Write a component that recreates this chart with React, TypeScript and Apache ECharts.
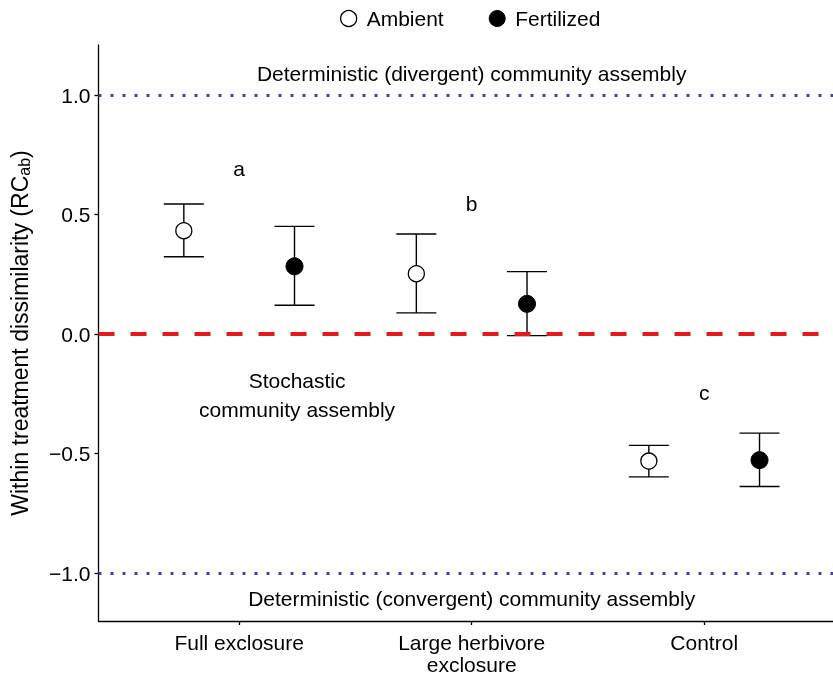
import React, { useEffect, useRef } from 'react';
import * as echarts from 'echarts';

const categories = ['Full exclosure', 'Large herbivore\nexclosure', 'Control'];
const categoryX = [1, 2, 3];
const ambientMean = [0.433, 0.253, -0.531];
const ambientLow = [0.324, 0.089, -0.597];
const ambientHigh = [0.545, 0.419, -0.465];
const fertMean = [0.284, 0.127, -0.527];
const fertLow = [0.121, -0.006, -0.637];
const fertHigh = [0.451, 0.262, -0.414];
const letters = ['a', 'b', 'c'];
const letterY = [0.695, 0.545, -0.244];
const yTicks = [-1, -0.5, 0, 0.5, 1];
const refLevels = { divergent: 1, neutral: 0, convergent: -1 };
const notes = [
  { text: 'Deterministic (divergent) community assembly', x: 2, y: 1.09 },
  { text: 'Stochastic\ncommunity assembly', x: 1.249, y: -0.255 },
  { text: 'Deterministic (convergent) community assembly', x: 2, y: -1.104 },
];

const FONT = '"Liberation Sans", Arial, Helvetica, sans-serif';
const DODGE = 0.238;

export default function App() {
  const ref = useRef<HTMLDivElement>(null);
  useEffect(() => {
    document.body.style.margin = '0';
    const chart = echarts.init(ref.current!, null, { renderer: 'svg' });
    const errStyle = { stroke: '#000', lineWidth: 1.4 };
    const errRender = (params: any, api: any) => {
      const x = api.value(0);
      const lo = api.coord([x, api.value(1)]);
      const hi = api.coord([x, api.value(2)]);
      const w = 20;
      return {
        type: 'group',
        children: [
          { type: 'line', shape: { x1: lo[0], y1: lo[1], x2: hi[0], y2: hi[1] }, style: errStyle },
          { type: 'line', shape: { x1: lo[0] - w, y1: lo[1], x2: lo[0] + w, y2: lo[1] }, style: errStyle },
          { type: 'line', shape: { x1: hi[0] - w, y1: hi[1], x2: hi[0] + w, y2: hi[1] }, style: errStyle },
        ],
      };
    };
    const ambX = categoryX.map((c) => c - DODGE);
    const fertX = categoryX.map((c) => c + DODGE);
    const blueDot = { color: '#4444aa', width: 3, type: [3, 9] as any, cap: 'butt' as any };
    const option: any = {
      animation: false,
      textStyle: { fontFamily: FONT },
      legend: {
        left: 335,
        top: 3,
        itemWidth: 16,
        itemHeight: 16,
        itemGap: 45,
        textStyle: { fontSize: 21, color: '#000', fontFamily: FONT, padding: [0, 0, 0, 5] },
        data: [
          { name: 'Ambient', icon: 'circle', itemStyle: { color: '#fff', borderColor: '#000', borderWidth: 1.3 } },
          { name: 'Fertilized', icon: 'circle', itemStyle: { color: '#000', borderColor: '#000', borderWidth: 1 } },
        ],
      },
      grid: { left: 97, right: 0, top: 45, bottom: 53, containLabel: false },
      xAxis: {
        type: 'value',
        min: 0.395,
        max: 3.554,
        splitLine: { show: false },
        axisLine: { show: true, onZero: false, lineStyle: { color: '#000', width: 1.3 } },
        axisTick: { show: true, length: 4, customValues: categoryX, lineStyle: { color: '#000', width: 1.3 } },
        axisLabel: {
          customValues: categoryX,
          formatter: (v: number) => categories[Math.round(v) - 1] ?? '',
          fontSize: 21,
          lineHeight: 22,
          color: '#000',
          fontFamily: FONT,
          margin: 10,
        },
      },
      yAxis: {
        type: 'value',
        min: -1.2,
        max: 1.21,
        splitLine: { show: false },
        axisLine: { show: true, onZero: false, lineStyle: { color: '#000', width: 1.3 } },
        axisTick: { show: true, length: 4, customValues: yTicks, lineStyle: { color: '#000', width: 1.3 } },
        axisLabel: {
          customValues: yTicks,
          formatter: (v: number) => v.toFixed(1).replace('-', '\u2212'),
          fontSize: 21,
          color: '#000',
          fontFamily: FONT,
          margin: 8,
        },
        name: 'Within treatment dissimilarity (RC{sub|ab})',
        nameLocation: 'middle',
        nameGap: 66,
        nameRotate: 90,
        nameTextStyle: {
          fontSize: 23,
          color: '#000',
          fontFamily: FONT,
          rich: { sub: { fontSize: 16, fontFamily: FONT, color: '#000', padding: [10, 0, 0, 0] } },
        },
      },
      series: [
        {
          type: 'line',
          data: [],
          silent: true,
          z: 3,
          markLine: {
            silent: true,
            symbol: 'none',
            label: { show: false },
            data: [
              { yAxis: refLevels.divergent, lineStyle: blueDot },
              { yAxis: refLevels.convergent, lineStyle: blueDot },
              { yAxis: refLevels.neutral, lineStyle: { color: '#e41a1c', width: 4, type: [16, 16], cap: 'butt' } },
            ],
          },
        },
        {
          type: 'custom',
          name: 'errAmb',
          renderItem: errRender,
          data: ambX.map((x, i) => [x, ambientLow[i], ambientHigh[i]]),
          z: 2,
          silent: true,
        },
        {
          type: 'custom',
          name: 'errFert',
          renderItem: errRender,
          data: fertX.map((x, i) => [x, fertLow[i], fertHigh[i]]),
          z: 2,
          silent: true,
        },
        {
          type: 'scatter',
          name: 'Ambient',
          symbol: 'circle',
          symbolSize: 16,
          itemStyle: { color: '#fff', borderColor: '#000', borderWidth: 1.3, opacity: 1 },
          data: ambX.map((x, i) => [x, ambientMean[i]]),
          z: 5,
        },
        {
          type: 'scatter',
          name: 'Fertilized',
          symbol: 'circle',
          symbolSize: 17,
          itemStyle: { color: '#000', borderColor: '#000', borderWidth: 1, opacity: 1 },
          data: fertX.map((x, i) => [x, fertMean[i]]),
          z: 5,
        },
        {
          type: 'scatter',
          name: 'notes',
          symbolSize: 1,
          silent: true,
          itemStyle: { color: 'rgba(0,0,0,0)' },
          z: 6,
          label: {
            show: true,
            position: 'inside',
            formatter: (p: any) => p.name,
            fontSize: 21,
            lineHeight: 29,
            color: '#000',
            opacity: 1,
            textBorderWidth: 0,
            fontFamily: FONT,
          },
          data: [
            ...letters.map((t, i) => ({ name: t, value: [categoryX[i], letterY[i]] })),
            ...notes.map((n) => ({ name: n.text, value: [n.x, n.y] })),
          ],
        },
      ],
    };
    chart.setOption(option);
    return () => chart.dispose();
  }, []);
  return <div ref={ref} style={{ position: 'fixed', left: 0, top: 0, width: 833, height: 675 }} />;
}
